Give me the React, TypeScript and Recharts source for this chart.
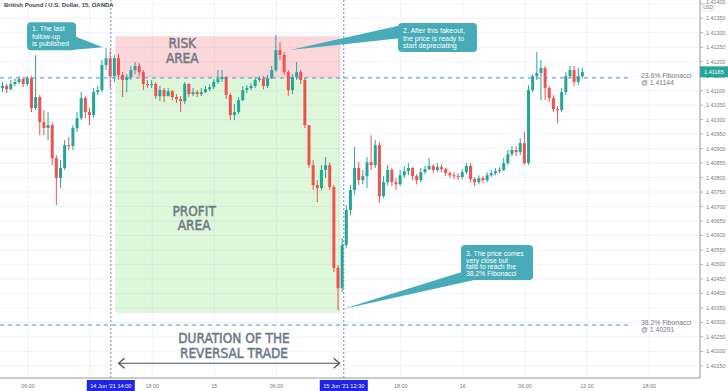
import {
  ComposedChart,
  Bar,
  XAxis,
  YAxis,
  CartesianGrid,
  ReferenceArea,
  ReferenceLine,
  ReferenceDot,
} from "recharts";

const UP = "#26a69a";
const DOWN = "#ef5350";
const MUTED = "#787b86";
const LABEL = "#6e7885";
const CALLOUT = "#47abb8";
const BIG_FONT = "'Liberation Sans Narrow', 'DejaVu Sans Condensed', Roboto, sans-serif";
const SMALL_FONT = "'Liberation Sans', Arial, sans-serif";

// 14 Jun 2021 00:00 = hour 0
const startHour = 3.5;
const stepHours = 0.4;
const firstOpen = 1.41109;

const closes = [
  1.41116, 1.41105, 1.41123, 1.4113, 1.4114, 1.41123, 1.41143, 1.4104, 1.41078, 1.40991,
  1.40971, 1.40981, 1.40867, 1.40798, 1.40833, 1.40912, 1.40909, 1.40971, 1.41005, 1.41074,
  1.41026, 1.41016, 1.41095, 1.41102, 1.41188, 1.41212, 1.4115, 1.41212, 1.41154, 1.41137,
  1.41147, 1.41171, 1.41185, 1.41164, 1.41123, 1.41119, 1.41123, 1.41081, 1.41102, 1.41081,
  1.41098, 1.41078, 1.41071, 1.41064, 1.41123, 1.41088, 1.41095, 1.41088, 1.41095, 1.41105,
  1.41112, 1.4113, 1.4114, 1.41147, 1.41085, 1.41016, 1.41026, 1.41067, 1.41102, 1.41109,
  1.41116, 1.41137, 1.41143, 1.41116, 1.41143, 1.41171, 1.4124, 1.41223, 1.41164, 1.41102,
  1.41147, 1.41164, 1.41137, 1.40981, 1.40843, 1.40774, 1.40764, 1.40826, 1.40843, 1.40767,
  1.40488, 1.40418, 1.40567, 1.40688, 1.40757, 1.40833, 1.40791, 1.40805, 1.40853, 1.40843,
  1.40912, 1.40736, 1.40784, 1.40826, 1.40784, 1.40777, 1.40808, 1.40822, 1.40833, 1.40805,
  1.40791, 1.40819, 1.40829, 1.4084, 1.40826, 1.40836, 1.40829, 1.40815, 1.40808, 1.40805,
  1.40802, 1.40819, 1.4084, 1.40795, 1.40784, 1.40798, 1.40791, 1.40808, 1.40815, 1.40822,
  1.40826, 1.4085, 1.40881, 1.40895, 1.40888, 1.40919, 1.4085, 1.41102, 1.4115, 1.41161,
  1.41178, 1.41109, 1.41074, 1.41036, 1.41033, 1.41095, 1.4115, 1.41171, 1.4113, 1.4115,
  1.41164,
];

const highs = [
  1.4113, 1.41123, 1.41137, 1.41143, 1.4115, 1.41147, 1.4115, 1.4115, 1.41223, 1.41085,
  1.41033, 1.41026, 1.40991, 1.40877, 1.4086, 1.40929, 1.4094, 1.40981, 1.41026, 1.41095,
  1.41081, 1.4104, 1.41109, 1.41116, 1.41206, 1.41247, 1.4124, 1.41223, 1.41226, 1.41164,
  1.41157, 1.41185, 1.41199, 1.41195, 1.41171, 1.41137, 1.41137, 1.4113, 1.41116, 1.41109,
  1.41109, 1.41102, 1.41088, 1.41081, 1.4113, 1.41126, 1.41109, 1.41102, 1.41109, 1.41116,
  1.41123, 1.4114, 1.41171, 1.41171, 1.4115, 1.41092, 1.41054, 1.41078, 1.41116, 1.41119,
  1.41126, 1.41147, 1.4115, 1.4115, 1.41154, 1.41185, 1.41292, 1.41268, 1.41233, 1.41171,
  1.41157, 1.41199, 1.41171, 1.41143, 1.40981, 1.4086, 1.40791, 1.40843, 1.40871, 1.40853,
  1.40774, 1.40498, 1.40591, 1.40705, 1.40774, 1.40905, 1.40853, 1.40826, 1.40871, 1.40946,
  1.40929, 1.40922, 1.40805, 1.40843, 1.40833, 1.40798, 1.40826, 1.4084, 1.4085, 1.40836,
  1.40812, 1.40833, 1.4084, 1.40867, 1.40846, 1.4085, 1.40846, 1.40833, 1.40822, 1.40819,
  1.40815, 1.40829, 1.4085, 1.4085, 1.40802, 1.40808, 1.40805, 1.40819, 1.40826, 1.40833,
  1.40836, 1.40867, 1.40895, 1.40909, 1.40909, 1.40936, 1.40957, 1.41119, 1.41157, 1.41233,
  1.41206, 1.41185, 1.41116, 1.41085, 1.41047, 1.41109, 1.41164, 1.41185, 1.41185, 1.41178,
  1.41178,
];

const lows = [
  1.41095, 1.41092, 1.41102, 1.41116, 1.41123, 1.41112, 1.41116, 1.41026, 1.41033, 1.40946,
  1.40946, 1.40929, 1.40843, 1.40705, 1.40764, 1.40826, 1.40895, 1.40895, 1.40957, 1.40998,
  1.41005, 1.40981, 1.41005, 1.41085, 1.41095, 1.41171, 1.41109, 1.4113, 1.41137, 1.41078,
  1.41095, 1.41137, 1.41157, 1.4115, 1.41102, 1.41109, 1.41109, 1.41071, 1.41064, 1.4106,
  1.41081, 1.41067, 1.41057, 1.41026, 1.41054, 1.41078, 1.41081, 1.41078, 1.41081, 1.41092,
  1.41098, 1.41105, 1.41123, 1.4113, 1.41071, 1.40998, 1.40998, 1.41019, 1.41064, 1.41092,
  1.41102, 1.41109, 1.4113, 1.41105, 1.41109, 1.4114, 1.41164, 1.41206, 1.41154, 1.41081,
  1.41088, 1.41137, 1.41123, 1.40971, 1.40833, 1.40757, 1.40715, 1.40757, 1.40798, 1.40757,
  1.40474, 1.40342, 1.40405, 1.40556, 1.4067, 1.40739, 1.40774, 1.40777, 1.40764, 1.40826,
  1.40833, 1.40712, 1.40729, 1.40774, 1.4077, 1.40757, 1.4077, 1.40798, 1.40808, 1.40791,
  1.40777, 1.40784, 1.40812, 1.40826, 1.40815, 1.40819, 1.40819, 1.40805, 1.40798, 1.40795,
  1.40791, 1.40795, 1.40812, 1.40784, 1.4077, 1.40777, 1.40781, 1.40784, 1.40802, 1.40808,
  1.40815, 1.40822, 1.40843, 1.40874, 1.40874, 1.40877, 1.40843, 1.40843, 1.41095, 1.41137,
  1.41067, 1.41067, 1.4106, 1.41026, 1.40988, 1.41026, 1.41085, 1.41143, 1.41116, 1.41119,
  1.41143,
];

const lastPrice = 1.41165;
const fib236 = 1.41144;
const fib382 = 1.40291;
const riskTop = 1.41288;
const profitBottom = 1.40332;
const tradeStart = 14;
const tradeEnd = 36.5;
const zoneStart = 14.45;
const zoneEnd = 36.19;

const yTicks = [
  1.4015, 1.402, 1.4025, 1.403, 1.4035, 1.404, 1.4045, 1.405, 1.4055, 1.406, 1.4065, 1.407, 1.4075,
  1.408, 1.4085, 1.409, 1.4095, 1.41, 1.4105, 1.411, 1.4115, 1.412, 1.4125, 1.413, 1.4135, 1.414,
];
const xGridHours = [6, 12, 18, 24, 30, 36, 42, 48, 54, 60, 66];
const xTickHours = [6, 14, 18, 24, 30, 36.5, 42, 48, 54, 60, 66];
const xTickLabels = ["06:00", "14 Jun '21   14:00", "18:00", "15", "06:00", "15 Jun '21   12:30", "18:00", "16", "06:00", "12:00", "18:00"];
const markerHours = [tradeStart, tradeEnd];

const candles = closes.map((close, i) => ({
  t: startHour + i * stepHours,
  open: i === 0 ? firstOpen : closes[i - 1],
  close,
  high: highs[i],
  low: lows[i],
  range: [lows[i], highs[i]],
}));

function Candle(props: any) {
  const { x, y, width, height, payload } = props;
  if (!payload) return null;
  const { open, close, high, low } = payload;
  const top = Math.min(y, y + height);
  const h = Math.abs(height);
  const span = high - low || 1e-9;
  const py = (v: number) => top + ((high - v) / span) * h;
  const color = close >= open ? UP : DOWN;
  const bTop = py(Math.max(open, close));
  const bBot = py(Math.min(open, close));
  return (
    <g>
      <line x1={x + width / 2} x2={x + width / 2} y1={top} y2={top + h} stroke={color} strokeWidth={1} />
      <rect x={x} y={bTop} width={width} height={Math.max(1, bBot - bTop)} fill={color} />
    </g>
  );
}

function XTick(props: any) {
  const { x, y, payload } = props;
  const i = xTickHours.indexOf(payload.value);
  const label = xTickLabels[i] ?? "";
  if (markerHours.includes(payload.value)) {
    return (
      <g>
        <rect x={x - 24} y={y + 2} width={48} height={12} fill="#1f24e8" />
        <text x={x} y={y + 10} textAnchor="middle" fontSize={5.6} fill="#fff" fontFamily={SMALL_FONT}>
          {label}
        </text>
      </g>
    );
  }
  return (
    <text x={x} y={y + 9.5} textAnchor="middle" fontSize={5.4} fill={MUTED} fontFamily={SMALL_FONT}>
      {label}
    </text>
  );
}

function YTick(props: any) {
  const { x, y, payload } = props;
  const v = payload.value;
  if (v === lastPrice) {
    return (
      <g>
        <rect x={x} y={y - 5.5} width={28} height={11} fill={UP} />
        <text x={x + 4} y={y + 2} fontSize={5.6} fill="#fff" fontFamily={SMALL_FONT}>
          {v.toFixed(5)}
        </text>
      </g>
    );
  }
  if (v === 1.414) {
    // top label is cut by the chart edge; the currency tag sits under it
    return (
      <g>
        <line x1={x} x2={x + 3} y1={y} y2={y} stroke="#b2b5be" />
        <text x={x + 6} y={y + 0.5} fontSize={5.4} fill={MUTED} fontFamily={SMALL_FONT}>
          {v.toFixed(5)}
        </text>
        <rect x={x + 2.5} y={4} width={11} height={7} fill="#fff" stroke="#d1d4dc" strokeWidth={0.6} rx={1} />
        <text x={x + 8} y={9.3} textAnchor="middle" fontSize={4.6} fill={MUTED} fontFamily={SMALL_FONT}>
          USD
        </text>
      </g>
    );
  }
  return (
    <g>
      <line x1={x} x2={x + 3} y1={y} y2={y} stroke="#b2b5be" />
      <text x={x + 6} y={y + 2} fontSize={5.4} fill={MUTED} fontFamily={SMALL_FONT}>
        {v.toFixed(5)}
      </text>
    </g>
  );
}

const callouts = [
  {
    t: 13.25,
    price: 1.4125,
    box: [-76, -25, 49, 28],
    tail: "M -31 -12 L 0 0 L -35 3 Z",
    lines: ["1. The last", "follow-up", "is published"],
    fs: 7,
    lh: 7.4,
    ty: -16,
  },
  {
    t: 31.31,
    price: 1.4124,
    box: [108, -27, 79, 29],
    tail: "M 112 -25 L 0 0 L 112 -12 Z",
    lines: ["2. After this fakeout,", "the price is ready to", "start depreciating"],
    fs: 7,
    lh: 7.4,
    ty: -17,
  },
  {
    t: 36.43,
    price: 1.40346,
    box: [118, -64, 72, 35],
    tail: "M 122 -38 L 0 0 L 145 -32 Z",
    lines: ["3. The price comes", "very close but", "fails to reach the", "38.2% Fibonacci"],
    fs: 6.8,
    lh: 6.5,
    ty: -53,
  },
];

const bigLabels = [
  { t: 20.9, price: 1.41247, lines: ["RISK", "AREA"], lh: 14.5 },
  { t: 22.05, price: 1.40667, lines: ["PROFIT", "AREA"], lh: 14 },
  { t: 25.9, price: 1.40228, lines: ["DURATION OF THE", "REVERSAL TRADE"], lh: 14.5 },
];

const fibLabels = [
  { price: fib236, lines: ["23.6% Fibonacci", "@ 1.41144"] },
  { price: fib382, lines: ["38.2% Fibonacci", "@ 1.40291"] },
];

const arrowPrice = 1.40159;

function Arrow(props: any) {
  const { x1, y1, x2, y2 } = props;
  const c = "#4a4e59";
  return (
    <g stroke={c} strokeWidth={1.2} fill="none">
      <line x1={x1} y1={y1} x2={x2} y2={y2} />
      <path d={`M ${x1 + 6} ${y1 - 5} L ${x1} ${y1} L ${x1 + 6} ${y1 + 5}`} />
      <path d={`M ${x2 - 6} ${y2 - 5} L ${x2} ${y2} L ${x2 - 6} ${y2 + 5}`} />
    </g>
  );
}

export default function App() {
  return (
    <div style={{ position: "absolute", left: 0, top: 0, width: 728, height: 391, background: "#fff" }}>
      <ComposedChart width={728} height={391} data={candles} margin={{ top: 0, right: 0, bottom: 0, left: 0 }}>
        <CartesianGrid stroke="#f0f3fa" horizontalValues={yTicks} verticalValues={xGridHours} />
        <XAxis
          type="number"
          dataKey="t"
          domain={[3.3, 70.9]}
          allowDataOverflow
          ticks={xTickHours}
          interval={0}
          tick={<XTick />}
          tickLine={false}
          tickSize={0}
          tickMargin={0}
          height={13}
          stroke="#9598a1"
        />
        <YAxis
          orientation="right"
          domain={[1.40108, 1.41413]}
          allowDataOverflow
          ticks={[...yTicks, lastPrice]}
          interval={0}
          tick={<YTick />}
          tickLine={false}
          tickSize={0}
          tickMargin={0}
          width={28}
          stroke="#9598a1"
        />
        <ReferenceArea
          x1={zoneStart}
          x2={zoneEnd}
          y1={fib236}
          y2={riskTop}
          fill="rgba(242, 54, 69, 0.2)"
          stroke="none"
          fillOpacity={1}
        />
        <ReferenceArea
          x1={zoneStart}
          x2={zoneEnd}
          y1={profitBottom}
          y2={fib236}
          fill="rgba(90, 214, 72, 0.2)"
          stroke="none"
          fillOpacity={1}
        />
        <Bar dataKey="range" barSize={3} shape={(p: any) => <Candle {...p} />} isAnimationActive={false} />
        <ReferenceLine segment={[{ x: 3.3, y: fib236 }, { x: 64.2, y: fib236 }]} stroke="#5a8bd0" strokeDasharray="4 4" />
        <ReferenceLine segment={[{ x: 3.3, y: fib382 }, { x: 64.2, y: fib382 }]} stroke="#5a8bd0" strokeDasharray="4 4" />
        {markerHours.map((h) => (
          <ReferenceLine key={h} x={h} stroke="#6f7ed8" strokeDasharray="2 2" />
        ))}
        <ReferenceLine
          segment={[{ x: 14.75, y: arrowPrice }, { x: 36.1, y: arrowPrice }]}
          shape={(p: any) => <Arrow {...p} />}
        />
        {fibLabels.map((f) => (
          <ReferenceDot
            key={f.price}
            x={65.2}
            y={f.price}
            r={1}
            shape={(p: any) => (
              <g>
                {f.lines.map((l, i) => (
                  <text key={l} x={p.cx} y={p.cy + i * 7} fontSize={6.8} fill={MUTED} fontFamily={SMALL_FONT}>
                    {l}
                  </text>
                ))}
              </g>
            )}
          />
        ))}
        {bigLabels.map((b) => (
          <ReferenceDot
            key={b.lines[0]}
            x={b.t}
            y={b.price}
            r={1}
            shape={(p: any) => (
              <g>
                {b.lines.map((l, i) => (
                  <text
                    key={l}
                    x={p.cx}
                    y={p.cy + i * b.lh}
                    textAnchor="middle"
                    fontSize={13.5}
                    fontWeight={400}
                    fill={LABEL}
                    stroke={LABEL}
                    strokeWidth={0.45}
                    fontFamily={BIG_FONT}
                  >
                    {l}
                  </text>
                ))}
              </g>
            )}
          />
        ))}
        {callouts.map((c) => (
          <ReferenceDot
            key={c.lines[0]}
            x={c.t}
            y={c.price}
            r={1}
            shape={(p: any) => (
              <g transform={`translate(${p.cx},${p.cy})`}>
                <path d={c.tail} fill={CALLOUT} />
                <rect x={c.box[0]} y={c.box[1]} width={c.box[2]} height={c.box[3]} rx={4} fill={CALLOUT} />
                {c.lines.map((l, i) => (
                  <text key={l} x={c.box[0] + 5} y={c.ty + i * c.lh} fontSize={c.fs} fill="#fff" fontFamily={SMALL_FONT}>
                    {l}
                  </text>
                ))}
              </g>
            )}
          />
        ))}
      </ComposedChart>
      <div
        style={{
          position: "absolute",
          left: 4,
          top: 2,
          fontFamily: SMALL_FONT,
          fontSize: 6,
          fontWeight: 700,
          color: "#434651",
        }}
      >
        British Pound / U.S. Dollar, 15, OANDA
      </div>
    </div>
  );
}
